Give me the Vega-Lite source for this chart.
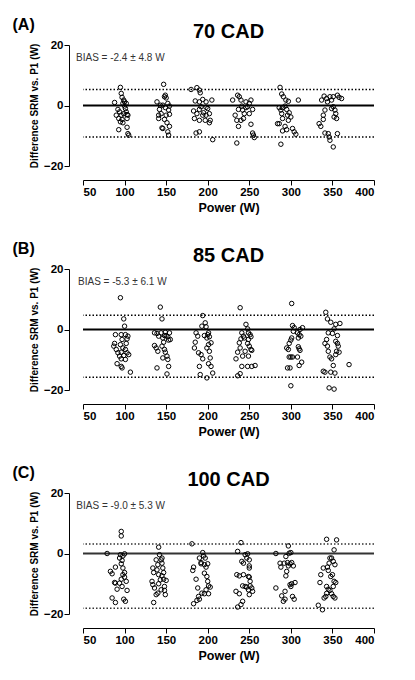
{
  "$schema": "https://vega.github.io/schema/vega-lite/v6.json",
  "padding": {"left": 12, "top": 17, "right": 5, "bottom": 5},
  "spacing": 27,
  "datasets": {
    "a": [
      {"p":88,"d":1.0},{"p":95,"d":6.0},{"p":96,"d":4.0},{"p":97,"d":2.7},{"p":99,"d":1.8},{"p":92,"d":-1.3},{"p":94,"d":-2.1},{"p":96,"d":-3.2},{"p":93,"d":-4.3},{"p":95,"d":-5.4},{"p":93,"d":-8.0},{"p":100,"d":-0.2},{"p":101,"d":-1.0},{"p":102,"d":-2.1},{"p":103,"d":-3.0},{"p":99,"d":-2.7},{"p":97,"d":-4.6},{"p":103,"d":-4.3},{"p":103,"d":-7.2},{"p":104,"d":-9.3},{"p":105,"d":-9.8},{"p":100,"d":1.2},{"p":98,"d":0.7},{"p":102,"d":0.7},{"p":104,"d":-3.2},{"p":90,"d":-3.2},{"p":98,"d":-5.7},
      {"p":139,"d":1.2},{"p":147,"d":7.0},{"p":148,"d":2.9},{"p":150,"d":2.5},{"p":149,"d":3.4},{"p":142,"d":-1.3},{"p":144,"d":-2.7},{"p":141,"d":-4.3},{"p":145,"d":-7.4},{"p":146,"d":-7.6},{"p":152,"d":0.7},{"p":154,"d":-0.2},{"p":153,"d":-1.5},{"p":154,"d":-2.9},{"p":150,"d":-3.2},{"p":148,"d":-4.6},{"p":151,"d":-5.7},{"p":152,"d":-8.7},{"p":153,"d":-9.8},{"p":154,"d":-6.9},{"p":149,"d":-0.7},{"p":146,"d":0.1},{"p":143,"d":0.1},{"p":141,"d":-3.2},
      {"p":180,"d":5.3},{"p":187,"d":5.9},{"p":190,"d":5.1},{"p":191,"d":4.2},{"p":185,"d":1.5},{"p":190,"d":1.2},{"p":194,"d":2.0},{"p":192,"d":-0.4},{"p":190,"d":-1.3},{"p":187,"d":-2.7},{"p":184,"d":-4.3},{"p":190,"d":-4.9},{"p":194,"d":-3.2},{"p":195,"d":-2.4},{"p":198,"d":-3.2},{"p":197,"d":-4.9},{"p":198,"d":1.2},{"p":200,"d":-1.0},{"p":202,"d":-2.7},{"p":203,"d":-4.9},{"p":202,"d":-5.7},{"p":186,"d":-9.1},{"p":190,"d":-8.7},{"p":206,"d":-11.3},{"p":183,"d":-1.8},{"p":198,"d":-0.6},{"p":205,"d":1.8},
      {"p":230,"d":1.8},{"p":236,"d":3.4},{"p":238,"d":2.9},{"p":240,"d":1.8},{"p":241,"d":-0.2},{"p":237,"d":-1.3},{"p":233,"d":-3.2},{"p":235,"d":-4.9},{"p":237,"d":-6.9},{"p":235,"d":-12.4},{"p":242,"d":-1.5},{"p":244,"d":-2.7},{"p":243,"d":-4.3},{"p":246,"d":-0.7},{"p":248,"d":-0.4},{"p":250,"d":0.7},{"p":252,"d":1.8},{"p":254,"d":-1.3},{"p":250,"d":-2.7},{"p":252,"d":-6.2},{"p":254,"d":-9.1},{"p":255,"d":-9.8},{"p":256,"d":-10.6},{"p":246,"d":1.2},{"p":240,"d":-4.9},
      {"p":287,"d":6.0},{"p":289,"d":3.8},{"p":291,"d":2.9},{"p":294,"d":1.8},{"p":297,"d":1.4},{"p":286,"d":-0.7},{"p":288,"d":-1.5},{"p":289,"d":-2.7},{"p":290,"d":-4.3},{"p":286,"d":-6.0},{"p":284,"d":-6.0},{"p":293,"d":-6.9},{"p":295,"d":-8.0},{"p":290,"d":-8.4},{"p":295,"d":-1.3},{"p":296,"d":-3.2},{"p":297,"d":-4.9},{"p":298,"d":-2.4},{"p":300,"d":-3.8},{"p":302,"d":-7.6},{"p":304,"d":-8.7},{"p":306,"d":-9.5},{"p":309,"d":1.8},{"p":288,"d":-12.8},{"p":290,"d":-0.7},{"p":293,"d":-0.2},
      {"p":337,"d":1.8},{"p":340,"d":3.1},{"p":343,"d":2.3},{"p":344,"d":1.2},{"p":347,"d":2.9},{"p":349,"d":1.8},{"p":351,"d":2.9},{"p":356,"d":3.4},{"p":358,"d":2.7},{"p":361,"d":2.3},{"p":341,"d":-1.5},{"p":339,"d":-3.2},{"p":339,"d":-4.6},{"p":334,"d":-6.0},{"p":336,"d":-6.9},{"p":341,"d":-9.1},{"p":345,"d":-9.3},{"p":346,"d":-10.4},{"p":347,"d":-11.5},{"p":351,"d":-13.7},{"p":351,"d":-0.4},{"p":353,"d":-1.5},{"p":354,"d":-2.7},{"p":355,"d":-4.3},{"p":352,"d":-3.8},{"p":356,"d":-9.3},{"p":349,"d":-1.0}
    ],
    "b": [
      {"p":89,"d":-1.7},{"p":88,"d":-4.6},{"p":87,"d":-5.5},{"p":90,"d":-6.6},{"p":91,"d":-11.3},{"p":95,"d":10.5},{"p":99,"d":3.5},{"p":100,"d":1.1},{"p":96,"d":-1.7},{"p":97,"d":-3.3},{"p":95,"d":-5.0},{"p":98,"d":-6.1},{"p":96,"d":-7.5},{"p":94,"d":-8.8},{"p":96,"d":-9.7},{"p":97,"d":-12.7},{"p":96,"d":-12.2},{"p":101,"d":-1.7},{"p":103,"d":-3.1},{"p":104,"d":-2.2},{"p":102,"d":-4.6},{"p":101,"d":-6.6},{"p":103,"d":-7.7},{"p":105,"d":-8.3},{"p":101,"d":-9.9},{"p":107,"d":-14.1},{"p":92,"d":-7.7},{"p":99,"d":-8.6},
      {"p":136,"d":-1.1},{"p":139,"d":-1.3},{"p":141,"d":-2.2},{"p":136,"d":-5.3},{"p":138,"d":-6.1},{"p":140,"d":-7.2},{"p":139,"d":-12.7},{"p":143,"d":7.4},{"p":145,"d":3.5},{"p":144,"d":-1.1},{"p":146,"d":-2.8},{"p":148,"d":-2.0},{"p":147,"d":-4.2},{"p":145,"d":-5.5},{"p":148,"d":-6.6},{"p":149,"d":-7.5},{"p":150,"d":-2.0},{"p":152,"d":-2.4},{"p":154,"d":-1.1},{"p":153,"d":-3.5},{"p":155,"d":-3.3},{"p":151,"d":-8.8},{"p":152,"d":-9.9},{"p":153,"d":-12.2},{"p":151,"d":-14.7},{"p":146,"d":-9.4},{"p":149,"d":-0.9},
      {"p":186,"d":-1.1},{"p":188,"d":-2.2},{"p":185,"d":-4.2},{"p":184,"d":-6.1},{"p":189,"d":-7.7},{"p":192,"d":-8.3},{"p":194,"d":-9.7},{"p":190,"d":-12.2},{"p":191,"d":-14.9},{"p":194,"d":4.6},{"p":197,"d":2.2},{"p":198,"d":0.9},{"p":196,"d":-2.0},{"p":199,"d":-2.8},{"p":200,"d":-1.7},{"p":201,"d":-1.1},{"p":202,"d":-2.4},{"p":201,"d":-5.0},{"p":199,"d":-6.1},{"p":202,"d":-7.2},{"p":203,"d":-9.4},{"p":201,"d":-11.3},{"p":204,"d":-12.2},{"p":206,"d":-14.4},{"p":199,"d":-16.0},{"p":193,"d":1.1},{"p":204,"d":-4.4},
      {"p":239,"d":7.2},{"p":241,"d":-1.1},{"p":243,"d":-2.2},{"p":240,"d":-3.1},{"p":238,"d":-4.4},{"p":239,"d":-6.1},{"p":236,"d":-7.5},{"p":234,"d":-9.7},{"p":241,"d":-12.2},{"p":236,"d":-15.3},{"p":239,"d":-14.6},{"p":246,"d":1.7},{"p":248,"d":0.2},{"p":249,"d":-1.1},{"p":251,"d":-1.7},{"p":252,"d":-2.4},{"p":249,"d":-3.3},{"p":248,"d":-4.6},{"p":250,"d":-5.5},{"p":252,"d":-6.6},{"p":253,"d":-6.9},{"p":249,"d":-8.8},{"p":248,"d":-12.2},{"p":253,"d":-12.2},{"p":257,"d":-11.9},{"p":244,"d":-2.8},{"p":245,"d":-7.2},{"p":242,"d":-8.8},
      {"p":301,"d":8.6},{"p":302,"d":1.3},{"p":304,"d":0.6},{"p":303,"d":-0.6},{"p":301,"d":-2.8},{"p":300,"d":-3.5},{"p":298,"d":-4.6},{"p":297,"d":-6.6},{"p":298,"d":-9.1},{"p":300,"d":-9.1},{"p":302,"d":-9.1},{"p":299,"d":-12.7},{"p":296,"d":-12.7},{"p":300,"d":-18.6},{"p":308,"d":-1.1},{"p":310,"d":-1.7},{"p":309,"d":-2.8},{"p":311,"d":0.0},{"p":314,"d":0.6},{"p":309,"d":-5.7},{"p":310,"d":-6.4},{"p":311,"d":-6.9},{"p":308,"d":-9.1},{"p":310,"d":-11.9},{"p":313,"d":-10.8},{"p":295,"d":-6.1},{"p":312,"d":-2.2},
      {"p":342,"d":5.7},{"p":344,"d":3.5},{"p":348,"d":2.4},{"p":354,"d":1.7},{"p":359,"d":2.0},{"p":352,"d":0.2},{"p":350,"d":-1.3},{"p":345,"d":-1.1},{"p":343,"d":-3.3},{"p":341,"d":-4.6},{"p":344,"d":-5.5},{"p":345,"d":-7.2},{"p":347,"d":-9.1},{"p":349,"d":-9.7},{"p":351,"d":-11.9},{"p":341,"d":-14.1},{"p":348,"d":-14.1},{"p":353,"d":-14.4},{"p":346,"d":-19.3},{"p":352,"d":-19.7},{"p":354,"d":-3.9},{"p":356,"d":-4.6},{"p":357,"d":-5.5},{"p":355,"d":-7.2},{"p":358,"d":-7.5},{"p":354,"d":-8.3},{"p":370,"d":-11.6},{"p":339,"d":-13.8},{"p":356,"d":-2.0}
    ],
    "c": [
      {"p":79,"d":0.0},{"p":83,"d":-5.9},{"p":85,"d":-6.7},{"p":89,"d":-4.5},{"p":88,"d":-9.6},{"p":89,"d":-9.8},{"p":91,"d":-11.8},{"p":85,"d":-14.7},{"p":89,"d":-16.2},{"p":96,"d":7.3},{"p":96,"d":5.8},{"p":95,"d":-0.4},{"p":94,"d":-1.5},{"p":97,"d":-2.3},{"p":96,"d":-3.4},{"p":98,"d":-4.8},{"p":100,"d":-6.3},{"p":98,"d":-7.0},{"p":96,"d":-8.5},{"p":94,"d":-9.8},{"p":97,"d":-10.9},{"p":99,"d":-15.1},{"p":101,"d":-15.8},{"p":102,"d":-9.2},{"p":103,"d":-12.2},{"p":100,"d":-0.1},{"p":98,"d":-0.8},{"p":100,"d":-7.8},
      {"p":134,"d":-4.8},{"p":135,"d":-6.3},{"p":133,"d":-9.2},{"p":134,"d":-10.3},{"p":136,"d":-11.4},{"p":135,"d":-16.2},{"p":141,"d":2.1},{"p":142,"d":-0.4},{"p":138,"d":-2.1},{"p":140,"d":-3.7},{"p":139,"d":-5.4},{"p":141,"d":-7.0},{"p":143,"d":-8.7},{"p":141,"d":-10.0},{"p":138,"d":-13.6},{"p":140,"d":-13.1},{"p":144,"d":-2.1},{"p":145,"d":-3.2},{"p":146,"d":-4.8},{"p":147,"d":-6.3},{"p":145,"d":-7.4},{"p":147,"d":-8.5},{"p":148,"d":-10.9},{"p":148,"d":-12.2},{"p":149,"d":-13.6},{"p":150,"d":-8.9},{"p":144,"d":-12.0},{"p":145,"d":-1.5},
      {"p":181,"d":3.2},{"p":183,"d":-4.5},{"p":182,"d":-5.6},{"p":186,"d":-8.5},{"p":183,"d":-16.6},{"p":187,"d":-15.5},{"p":189,"d":-14.2},{"p":188,"d":-11.4},{"p":190,"d":-1.5},{"p":192,"d":-3.0},{"p":194,"d":0.3},{"p":195,"d":-0.8},{"p":197,"d":-1.5},{"p":196,"d":-3.7},{"p":198,"d":-4.5},{"p":196,"d":-6.5},{"p":199,"d":-7.6},{"p":200,"d":-9.2},{"p":201,"d":-10.7},{"p":203,"d":-11.1},{"p":198,"d":-12.0},{"p":196,"d":-13.3},{"p":193,"d":-13.1},{"p":201,"d":-13.3},{"p":192,"d":-3.4},{"p":200,"d":-3.4},{"p":190,"d":-15.1},
      {"p":236,"d":0.7},{"p":240,"d":3.6},{"p":235,"d":-7.0},{"p":238,"d":-7.4},{"p":234,"d":-12.5},{"p":238,"d":-13.3},{"p":236,"d":-17.7},{"p":240,"d":-16.9},{"p":242,"d":-15.8},{"p":241,"d":-2.6},{"p":243,"d":-3.2},{"p":245,"d":-0.4},{"p":247,"d":-1.5},{"p":243,"d":-7.0},{"p":245,"d":-10.9},{"p":247,"d":-11.1},{"p":248,"d":-0.1},{"p":250,"d":-2.1},{"p":250,"d":-4.1},{"p":250,"d":-4.8},{"p":249,"d":-7.6},{"p":250,"d":-7.8},{"p":251,"d":-9.2},{"p":249,"d":-12.0},{"p":250,"d":-13.6},{"p":253,"d":-11.4},{"p":254,"d":-12.5},{"p":251,"d":-10.7},{"p":242,"d":-10.7},
      {"p":282,"d":0.0},{"p":282,"d":-11.4},{"p":287,"d":-3.2},{"p":288,"d":-4.5},{"p":289,"d":-14.0},{"p":291,"d":-15.8},{"p":293,"d":-15.1},{"p":294,"d":-1.0},{"p":296,"d":-3.0},{"p":295,"d":-5.9},{"p":294,"d":-7.4},{"p":293,"d":-12.5},{"p":297,"d":2.5},{"p":298,"d":0.1},{"p":299,"d":-3.4},{"p":297,"d":-4.1},{"p":299,"d":-10.3},{"p":300,"d":-10.9},{"p":301,"d":-3.0},{"p":303,"d":-4.1},{"p":301,"d":-10.0},{"p":302,"d":-14.2},{"p":304,"d":-15.1},{"p":305,"d":-9.6},{"p":300,"d":0.3},{"p":292,"d":-3.2},
      {"p":352,"d":1.2},{"p":343,"d":4.7},{"p":355,"d":4.5},{"p":336,"d":-7.0},{"p":335,"d":-9.6},{"p":339,"d":-4.8},{"p":333,"d":-17.1},{"p":338,"d":-18.6},{"p":340,"d":-14.7},{"p":342,"d":-14.2},{"p":343,"d":-10.9},{"p":344,"d":-4.5},{"p":346,"d":-3.2},{"p":347,"d":-1.5},{"p":348,"d":-7.6},{"p":345,"d":-11.8},{"p":347,"d":-12.2},{"p":349,"d":-13.3},{"p":350,"d":-7.0},{"p":351,"d":-10.9},{"p":352,"d":-9.2},{"p":353,"d":-3.7},{"p":354,"d":-9.6},{"p":351,"d":-14.2},{"p":353,"d":-14.7},{"p":349,"d":-1.5},{"p":351,"d":-2.6},{"p":345,"d":-5.6},{"p":343,"d":-13.2}
    ],
    "aLines": [{"k":"zero","d":0},{"k":"loa","d":5.3},{"k":"loa","d":-10.4}],
    "bLines": [{"k":"zero","d":0},{"k":"loa","d":4.75},{"k":"loa","d":-15.8}],
    "cLines": [{"k":"zero","d":0},{"k":"loa","d":3.1},{"k":"loa","d":-18.1}]
  },
  "vconcat": [
    {
      "title": {"text": "(A)", "anchor": "start", "fontSize": 16, "dx": -17, "offset": -11},
      "vconcat": [
        {
          "width": 291,
          "height": 121,
          "title": {"text": "70 CAD", "fontSize": 20, "anchor": "middle", "offset": -3},
          "layer": [
            {
              "data": {"name": "aLines"},
              "mark": {"type": "rule", "color": "black"},
              "encoding": {
                "y": {"field": "d", "type": "quantitative", "title": "Difference SRM vs. P1 (W)",
                      "scale": {"domain": [-20, 20], "nice": false},
                      "axis": {"values": [-20, -10, 0, 10, 20], "offset": 14}},
                "strokeDash": {"field": "k", "type": "nominal", "legend": null,
                               "scale": {"domain": ["zero", "loa"], "range": [[1, 0], [1.5, 2]]}},
                "strokeWidth": {"field": "k", "type": "nominal", "legend": null,
                                "scale": {"domain": ["zero", "loa"], "range": [2, 1.5]}}
              }
            },
            {
              "data": {"name": "a"},
              "mark": {"type": "point", "shape": "circle", "filled": false, "size": 20, "strokeWidth": 1, "color": "black", "opacity": 1},
              "encoding": {
                "x": {"field": "p", "type": "quantitative", "title": "Power (W)",
                      "scale": {"domain": [50, 400], "nice": false},
                      "axis": {"values": [50, 100, 150, 200, 250, 300, 350, 400], "offset": 14}},
                "y": {"field": "d", "type": "quantitative", "title": "Difference SRM vs. P1 (W)"}
              }
            },
            {
              "data": {"values": [{"t": "BIAS = -2.4 ± 4.8 W"}]},
              "mark": {"type": "text", "align": "left", "baseline": "middle", "fontSize": 10, "color": "#333333"},
              "encoding": {
                "text": {"field": "t", "type": "nominal"},
                "x": {"datum": 41.6, "type": "quantitative"},
                "y": {"datum": 15.7, "type": "quantitative"}
              }
            }
          ]
        }
      ]
    },
    {
      "title": {"text": "(B)", "anchor": "start", "fontSize": 16, "dx": -17, "offset": -11},
      "vconcat": [
        {
          "width": 291,
          "height": 121,
          "title": {"text": "85 CAD", "fontSize": 20, "anchor": "middle", "offset": -3},
          "layer": [
            {
              "data": {"name": "bLines"},
              "mark": {"type": "rule", "color": "black"},
              "encoding": {
                "y": {"field": "d", "type": "quantitative", "title": "Difference SRM vs. P1 (W)",
                      "scale": {"domain": [-20, 20], "nice": false},
                      "axis": {"values": [-20, -10, 0, 10, 20], "offset": 14}},
                "strokeDash": {"field": "k", "type": "nominal", "legend": null,
                               "scale": {"domain": ["zero", "loa"], "range": [[1, 0], [1.5, 2]]}},
                "strokeWidth": {"field": "k", "type": "nominal", "legend": null,
                                "scale": {"domain": ["zero", "loa"], "range": [2, 1.5]}}
              }
            },
            {
              "data": {"name": "b"},
              "mark": {"type": "point", "shape": "circle", "filled": false, "size": 20, "strokeWidth": 1, "color": "black", "opacity": 1},
              "encoding": {
                "x": {"field": "p", "type": "quantitative", "title": "Power (W)",
                      "scale": {"domain": [50, 400], "nice": false},
                      "axis": {"values": [50, 100, 150, 200, 250, 300, 350, 400], "offset": 14}},
                "y": {"field": "d", "type": "quantitative", "title": "Difference SRM vs. P1 (W)"}
              }
            },
            {
              "data": {"values": [{"t": "BIAS = -5.3 ± 6.1 W"}]},
              "mark": {"type": "text", "align": "left", "baseline": "middle", "fontSize": 10, "color": "#333333"},
              "encoding": {
                "text": {"field": "t", "type": "nominal"},
                "x": {"datum": 44, "type": "quantitative"},
                "y": {"datum": 15.7, "type": "quantitative"}
              }
            }
          ]
        }
      ]
    },
    {
      "title": {"text": "(C)", "anchor": "start", "fontSize": 16, "dx": -17, "offset": -11},
      "vconcat": [
        {
          "width": 291,
          "height": 121,
          "title": {"text": "100 CAD", "fontSize": 20, "anchor": "middle", "offset": -3},
          "layer": [
            {
              "data": {"name": "cLines"},
              "mark": {"type": "rule", "color": "#333333"},
              "encoding": {
                "y": {"field": "d", "type": "quantitative", "title": "Difference SRM vs. P1 (W)",
                      "scale": {"domain": [-20, 20], "nice": false},
                      "axis": {"values": [-20, -10, 0, 10, 20], "offset": 14}},
                "strokeDash": {"field": "k", "type": "nominal", "legend": null,
                               "scale": {"domain": ["zero", "loa"], "range": [[1, 0], [1.5, 2]]}},
                "strokeWidth": {"field": "k", "type": "nominal", "legend": null,
                                "scale": {"domain": ["zero", "loa"], "range": [2, 1.5]}}
              }
            },
            {
              "data": {"name": "c"},
              "mark": {"type": "point", "shape": "circle", "filled": false, "size": 20, "strokeWidth": 1, "color": "black", "opacity": 1},
              "encoding": {
                "x": {"field": "p", "type": "quantitative", "title": "Power (W)",
                      "scale": {"domain": [50, 400], "nice": false},
                      "axis": {"values": [50, 100, 150, 200, 250, 300, 350, 400], "offset": 14}},
                "y": {"field": "d", "type": "quantitative", "title": "Difference SRM vs. P1 (W)"}
              }
            },
            {
              "data": {"values": [{"t": "BIAS = -9.0 ± 5.3 W"}]},
              "mark": {"type": "text", "align": "left", "baseline": "middle", "fontSize": 10, "color": "#333333"},
              "encoding": {
                "text": {"field": "t", "type": "nominal"},
                "x": {"datum": 42, "type": "quantitative"},
                "y": {"datum": 15.7, "type": "quantitative"}
              }
            }
          ]
        }
      ]
    }
  ],
  "config": {
    "font": "Liberation Sans",
    "view": {"stroke": null},
    "title": {"font": "Liberation Sans", "fontWeight": "bold", "color": "black"},
    "axis": {
      "grid": false,
      "labelFont": "Liberation Sans", "labelFontWeight": "bold", "labelFontSize": 11.5, "labelColor": "black",
      "labelOverlap": false,
      "titleFont": "Liberation Sans", "titleFontWeight": "bold", "titleColor": "black",
      "domainColor": "black", "tickColor": "black", "tickSize": 5, "domainWidth": 1, "tickWidth": 1, "labelPadding": 1
    },
    "axisX": {"titleFontSize": 12.5, "titlePadding": 4},
    "axisY": {"titleFontSize": 10, "titlePadding": 4}
  }
}
